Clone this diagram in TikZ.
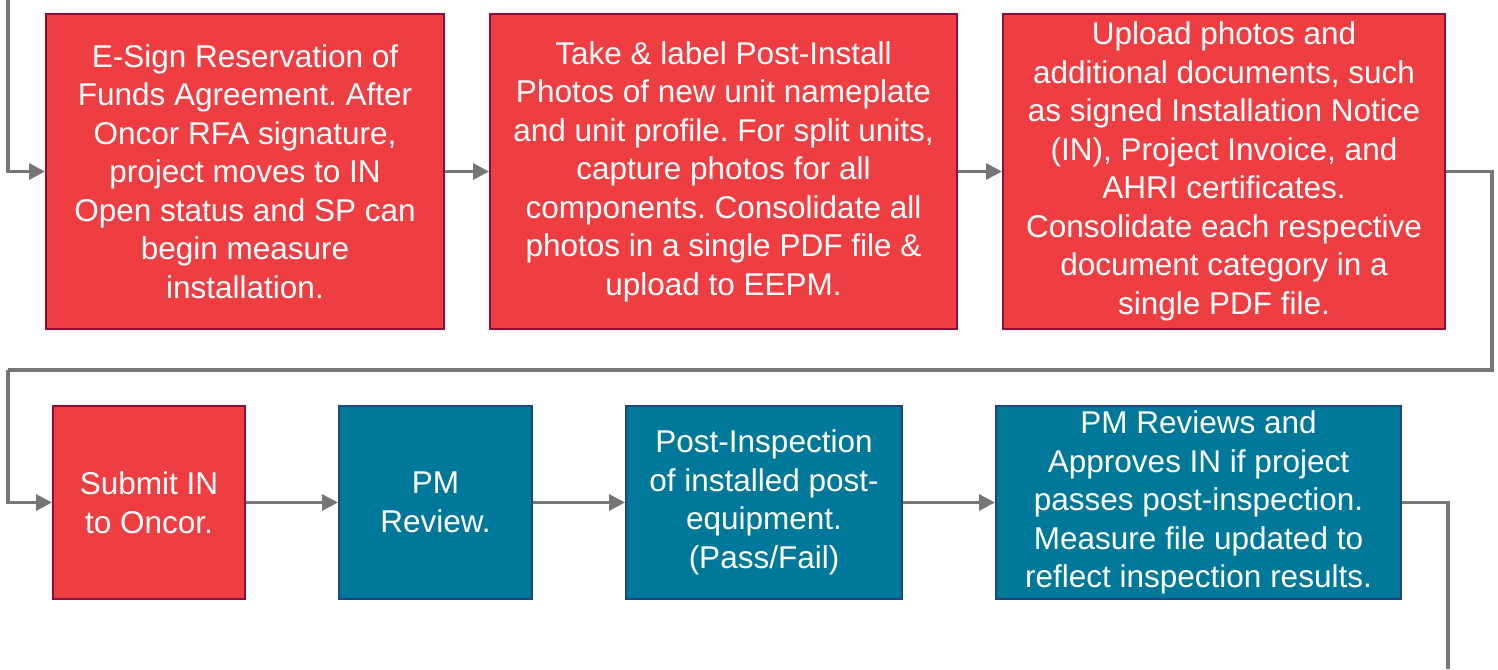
\documentclass[tikz,border=0pt]{standalone}
\usepackage{fontspec}
\setmainfont{Liberation Sans}
\usetikzlibrary{arrows.meta}
\frenchspacing
\definecolor{redfill}{HTML}{EF3E42}
\definecolor{redline}{HTML}{8C0D3E}
\definecolor{bluefill}{HTML}{00789A}
\definecolor{blueline}{HTML}{1F4585}
\definecolor{conn}{HTML}{767676}
\tikzset{
  box/.style={rectangle, line width=2pt, anchor=north west, align=center,
    text=white, inner sep=0pt, font=\fontsize{31.5}{38.5}\selectfont},
  redbox/.style={box, fill=redfill, draw=redline},
  bluebox/.style={box, fill=bluefill, draw=blueline},
  link/.style={draw=conn, line width=3.2pt},
  arr/.style={link, -{Triangle[length=16pt,width=16pt]}}
}
\begin{document}
\begin{tikzpicture}[x=1pt,y=-1pt]
\useasboundingbox (0,0) rectangle (1498,669);
% row 1
\node[redbox, minimum width=398pt, minimum height=315pt] (b1) at (45,13)
  {E-Sign Reservation of\\Funds Agreement. After\\Oncor RFA signature,\\project moves to IN\\Open status and SP can\\begin measure\\installation.};
\node[redbox, minimum width=467pt, minimum height=315pt] (b2) at (489,13)
  {Take \& label Post-Install\\Photos of new unit nameplate\\and unit profile. For split units,\\capture photos for all\\components. Consolidate all\\photos in a single PDF file \&\\upload to EEPM.};
\node[redbox, minimum width=442pt, minimum height=315pt] (b3) at (1002,13)
  {Upload photos and\\additional documents, such\\as signed Installation Notice\\(IN), Project Invoice, and\\AHRI certificates.\\Consolidate each respective\\document category in a\\single PDF file.};
% row 2
\node[redbox, minimum width=192pt, minimum height=193pt] (b4) at (52,405)
  {Submit IN\\to Oncor.};
\node[bluebox, minimum width=193pt, minimum height=193pt] (b5) at (338,405)
  {PM\\Review.};
\node[bluebox, minimum width=276pt, minimum height=193pt] (b6) at (625,405)
  {Post-Inspection\\of installed post-\\equipment.\\(Pass/Fail)};
\node[bluebox, minimum width=405pt, minimum height=193pt] (b7) at (995,405)
  {PM Reviews and\\Approves IN if project\\passes post-inspection.\\Measure file updated to\\reflect inspection results.};
% connector coordinates
\coordinate (s0) at (8,0);
\coordinate (c1) at (1492,370);
\coordinate (c2) at (8,370);
\coordinate (e0) at (1448,669);
% connectors
\draw[arr] (s0) |- (b1.west);
\draw[arr] (b1.east) -- (b2.west);
\draw[arr] (b2.east) -- (b3.west);
\draw[link] (b3.east) -| (c1) -- (c2);
\draw[arr] (c2) |- (b4.west);
\draw[arr] (b4.east) -- (b5.west);
\draw[arr] (b5.east) -- (b6.west);
\draw[arr] (b6.east) -- (b7.west);
\draw[link] (b7.east) -| (e0);
\end{tikzpicture}
\end{document}
